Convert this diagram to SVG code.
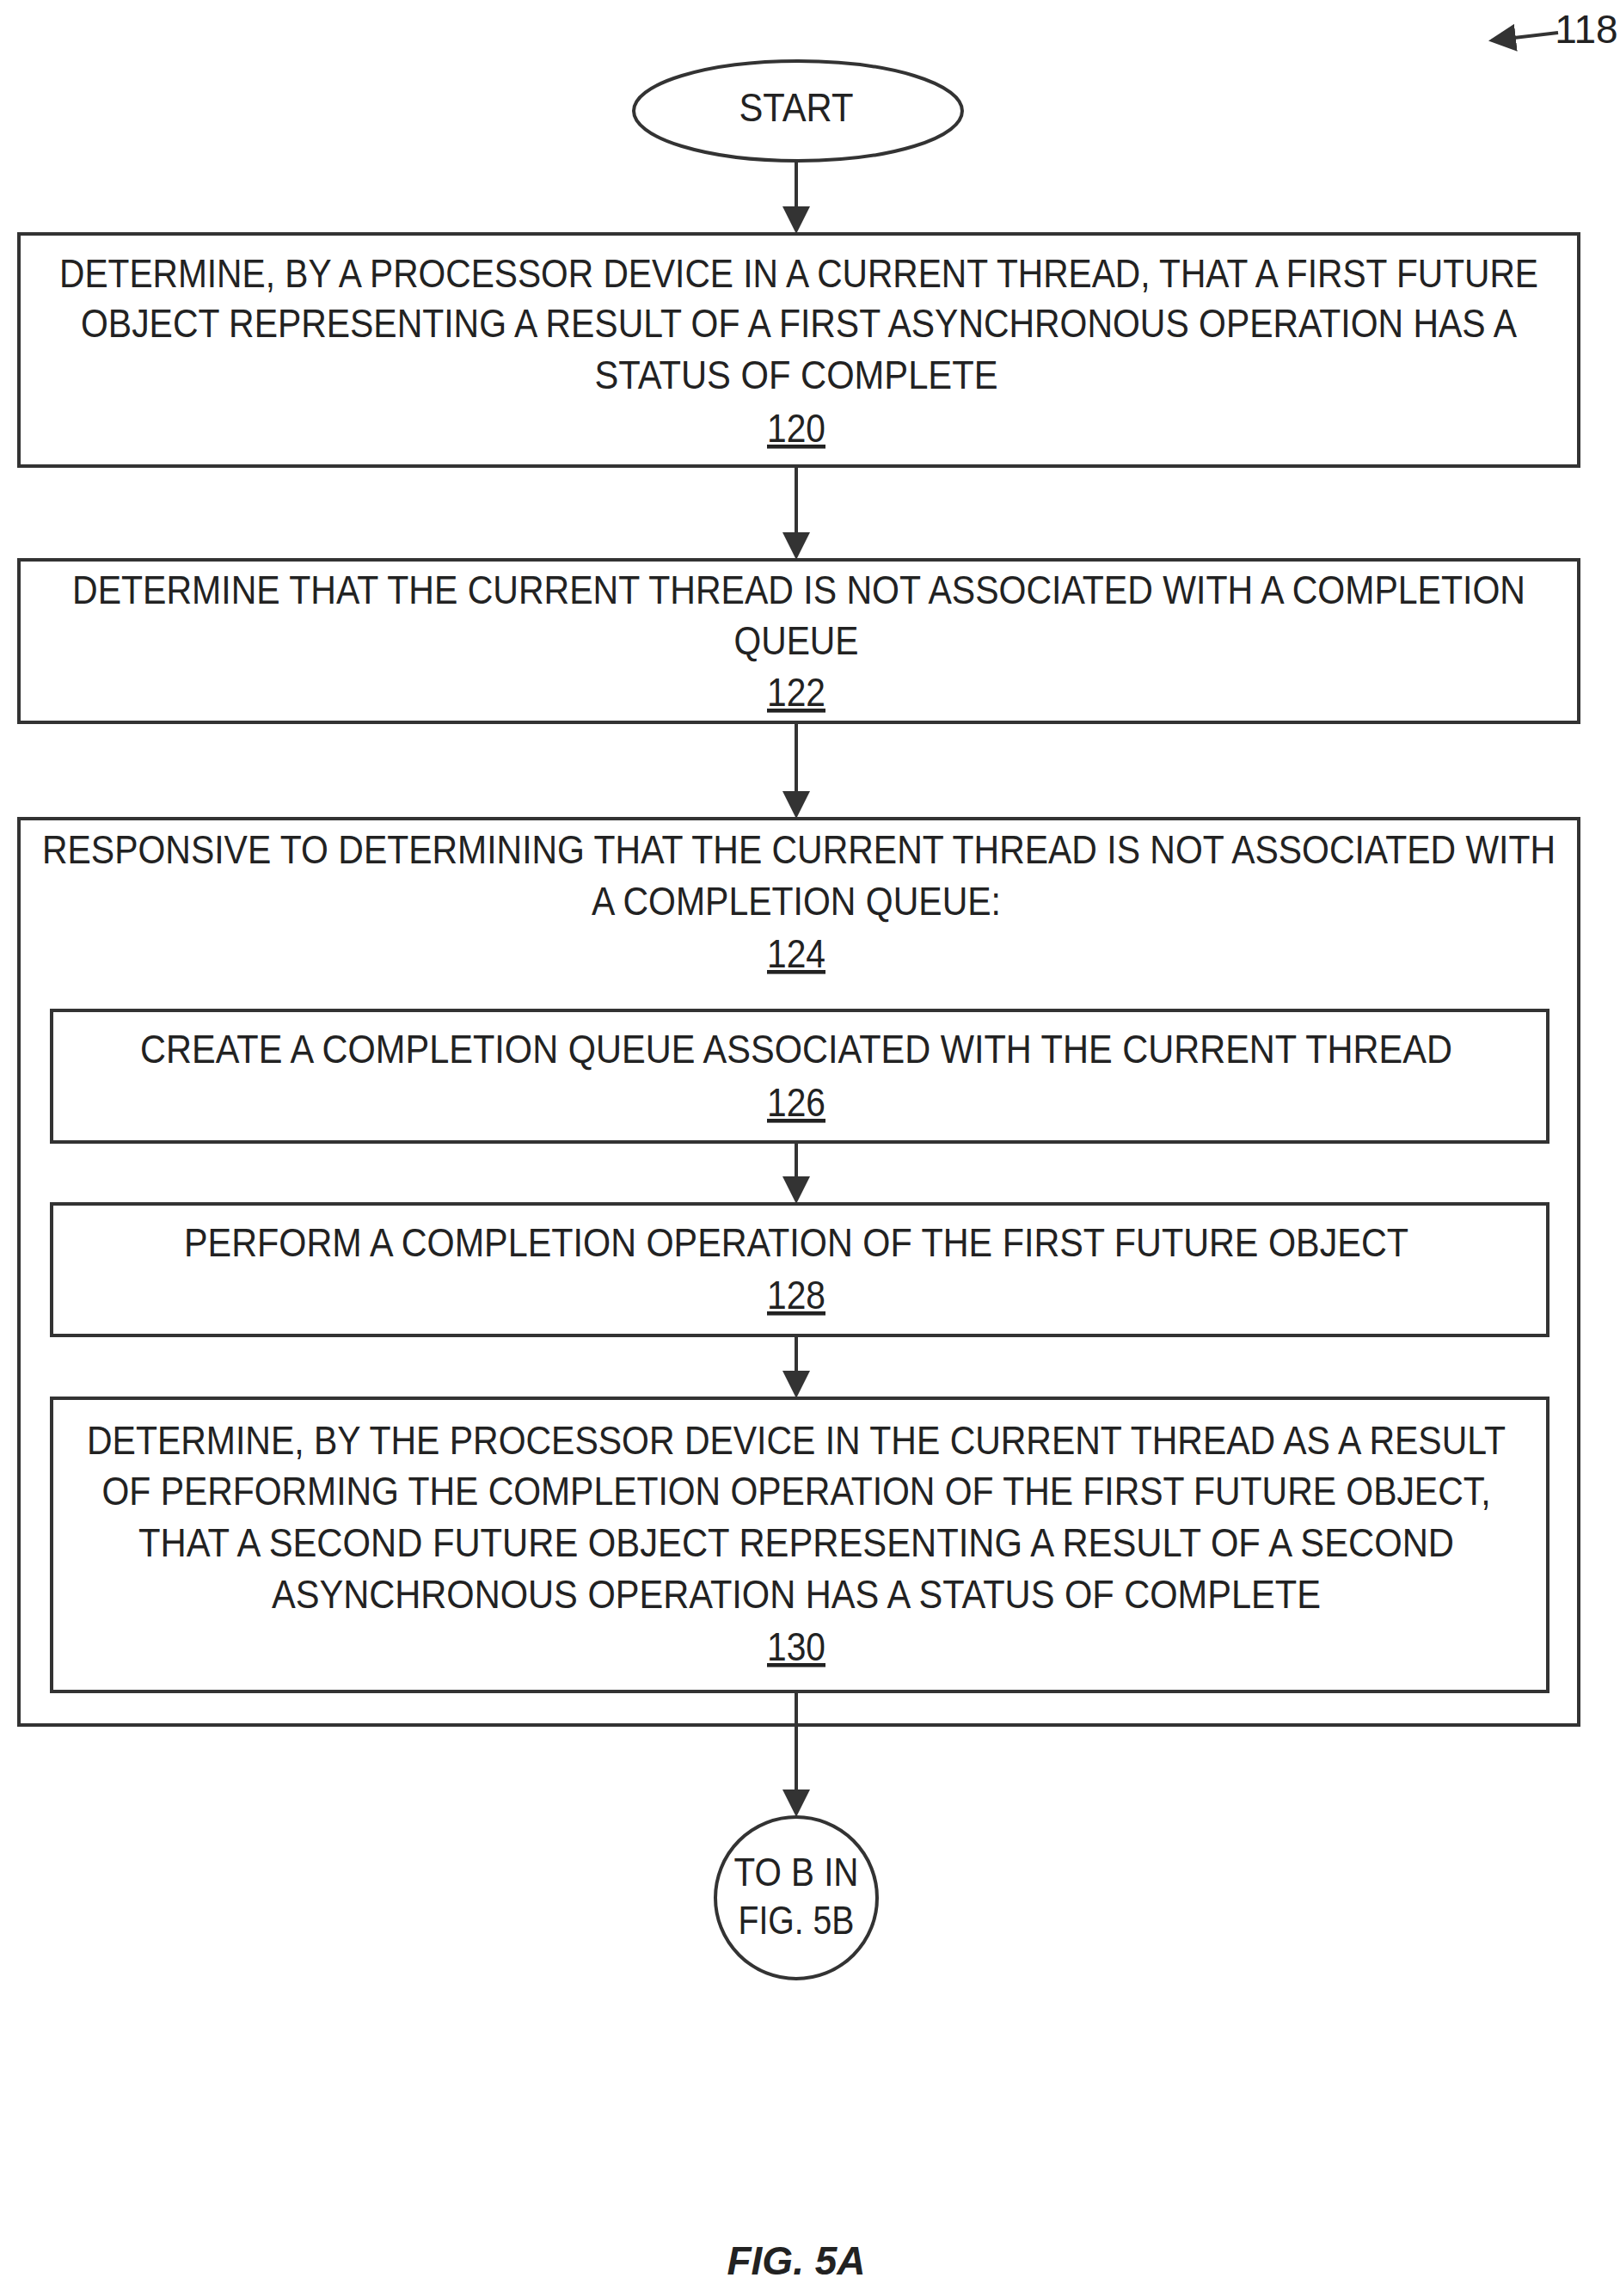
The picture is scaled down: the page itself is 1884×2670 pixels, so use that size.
<svg xmlns="http://www.w3.org/2000/svg" width="1884" height="2670" viewBox="0 0 1884 2670">
<style>
.t{font-family:"Liberation Sans",Arial,sans-serif;font-size:46px;fill:#222;text-anchor:middle}
.n{text-decoration:underline}
.b{fill:#fff;stroke:#333;stroke-width:4}
.c{stroke:#333;stroke-width:4;fill:none}
</style>
<defs><marker id="ah" markerWidth="8" markerHeight="8" refX="7" refY="4" orient="auto" markerUnits="strokeWidth"><path d="M0,0 L8,4 L0,8 z" fill="#333"/></marker></defs>
<rect width="1884" height="2670" fill="#fff"/>
<text class="t" x="1845" y="50" font-size="40" text-anchor="middle">118</text>
<g id="start"><ellipse class="b" cx="928" cy="129" rx="191" ry="58"/><text class="t" x="926" y="141" textLength="133" lengthAdjust="spacingAndGlyphs">START</text></g>
<g id="n120"><rect class="b" x="22" y="272" width="1814" height="270"/>
<text class="t" x="929" y="334" textLength="1720" lengthAdjust="spacingAndGlyphs">DETERMINE, BY A PROCESSOR DEVICE IN A CURRENT THREAD, THAT A FIRST FUTURE</text>
<text class="t" x="929" y="392" textLength="1670" lengthAdjust="spacingAndGlyphs">OBJECT REPRESENTING A RESULT OF A FIRST ASYNCHRONOUS OPERATION HAS A</text>
<text class="t" x="926" y="452" textLength="469" lengthAdjust="spacingAndGlyphs">STATUS OF COMPLETE</text>
<text class="t n" x="926" y="514" textLength="68" lengthAdjust="spacingAndGlyphs">120</text></g>
<g id="n122"><rect class="b" x="22" y="651" width="1814" height="189"/>
<text class="t" x="929" y="702" textLength="1690" lengthAdjust="spacingAndGlyphs">DETERMINE THAT THE CURRENT THREAD IS NOT ASSOCIATED WITH A COMPLETION</text>
<text class="t" x="926" y="761" textLength="145" lengthAdjust="spacingAndGlyphs">QUEUE</text>
<text class="t n" x="926" y="821" textLength="68" lengthAdjust="spacingAndGlyphs">122</text></g>
<g id="n124"><rect class="b" x="22" y="952" width="1814" height="1054"/>
<text class="t" x="929" y="1004" textLength="1760" lengthAdjust="spacingAndGlyphs">RESPONSIVE TO DETERMINING THAT THE CURRENT THREAD IS NOT ASSOCIATED WITH</text>
<text class="t" x="926" y="1064" textLength="476" lengthAdjust="spacingAndGlyphs">A COMPLETION QUEUE:</text>
<text class="t n" x="926" y="1125" textLength="68" lengthAdjust="spacingAndGlyphs">124</text></g>
<g id="n126"><rect class="b" x="60" y="1175" width="1740" height="153"/>
<text class="t" x="926" y="1236" textLength="1526" lengthAdjust="spacingAndGlyphs">CREATE A COMPLETION QUEUE ASSOCIATED WITH THE CURRENT THREAD</text>
<text class="t n" x="926" y="1298" textLength="68" lengthAdjust="spacingAndGlyphs">126</text></g>
<g id="n128"><rect class="b" x="60" y="1400" width="1740" height="153"/>
<text class="t" x="926" y="1461" textLength="1424" lengthAdjust="spacingAndGlyphs">PERFORM A COMPLETION OPERATION OF THE FIRST FUTURE OBJECT</text>
<text class="t n" x="926" y="1522" textLength="68" lengthAdjust="spacingAndGlyphs">128</text></g>
<g id="n130"><rect class="b" x="60" y="1626" width="1740" height="341"/>
<text class="t" x="926" y="1691" textLength="1650" lengthAdjust="spacingAndGlyphs">DETERMINE, BY THE PROCESSOR DEVICE IN THE CURRENT THREAD AS A RESULT</text>
<text class="t" x="926" y="1750" textLength="1615" lengthAdjust="spacingAndGlyphs">OF PERFORMING THE COMPLETION OPERATION OF THE FIRST FUTURE OBJECT,</text>
<text class="t" x="926" y="1810" textLength="1530" lengthAdjust="spacingAndGlyphs">THAT A SECOND FUTURE OBJECT REPRESENTING A RESULT OF A SECOND</text>
<text class="t" x="926" y="1870" textLength="1220" lengthAdjust="spacingAndGlyphs">ASYNCHRONOUS OPERATION HAS A STATUS OF COMPLETE</text>
<text class="t n" x="926" y="1931" textLength="68" lengthAdjust="spacingAndGlyphs">130</text></g>
<g id="toB"><circle class="b" cx="926" cy="2207" r="94"/>
<text class="t" x="926" y="2193" textLength="145" lengthAdjust="spacingAndGlyphs">TO B IN</text>
<text class="t" x="926" y="2249" textLength="135" lengthAdjust="spacingAndGlyphs">FIG. 5B</text></g>
<g id="connectors">
<line class="c" x1="926" y1="187" x2="926" y2="268" marker-end="url(#ah)"/>
<line class="c" x1="926" y1="542" x2="926" y2="647" marker-end="url(#ah)"/>
<line class="c" x1="926" y1="840" x2="926" y2="948" marker-end="url(#ah)"/>
<line class="c" x1="926" y1="1330" x2="926" y2="1396" marker-end="url(#ah)"/>
<line class="c" x1="926" y1="1555" x2="926" y2="1622" marker-end="url(#ah)"/>
<line class="c" x1="926" y1="1969" x2="926" y2="2109" marker-end="url(#ah)"/>
<line class="c" x1="1812" y1="38" x2="1735" y2="47" marker-end="url(#ah)"/>
</g>
<text class="t" x="926" y="2645" font-size="72" font-weight="bold" font-style="italic">FIG. 5A</text>
</svg>
